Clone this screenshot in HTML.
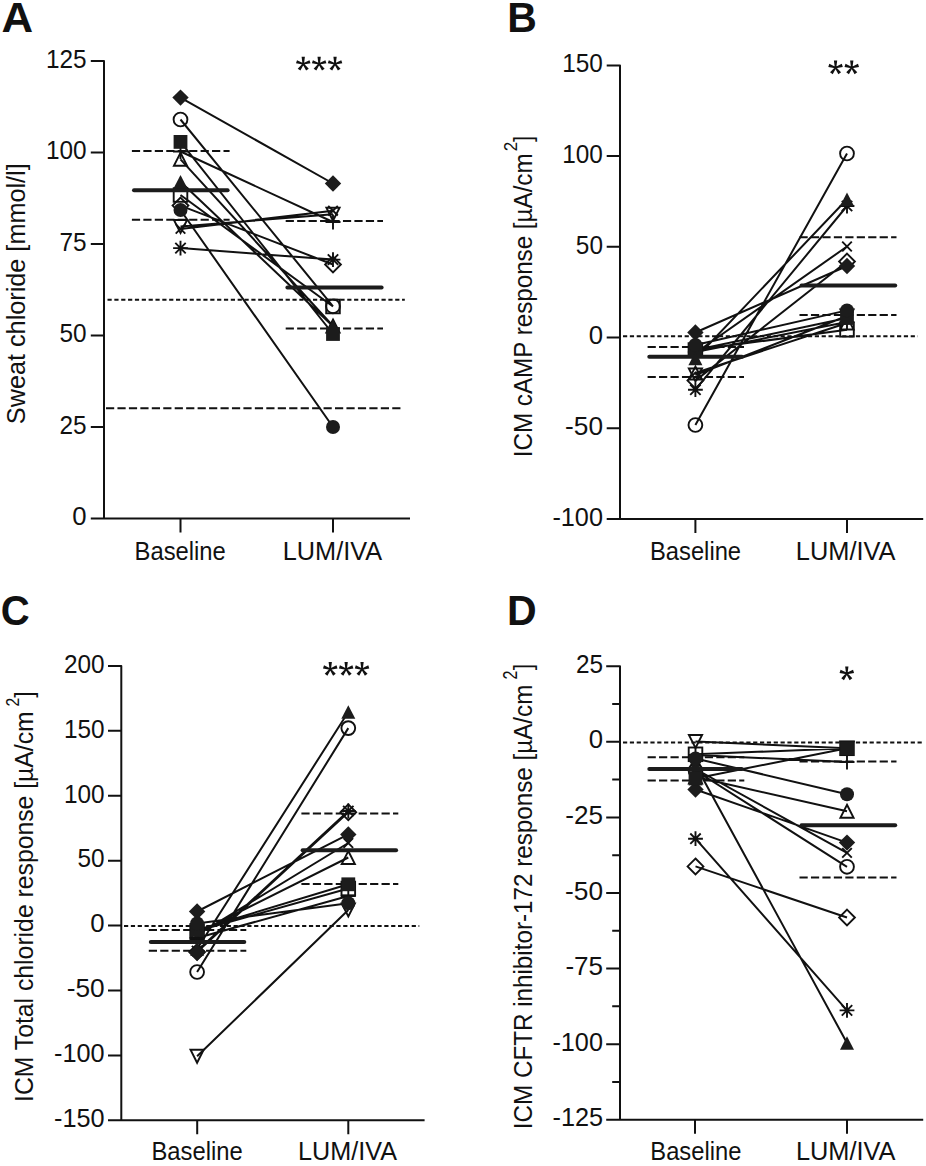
<!DOCTYPE html><html><head><meta charset="utf-8"><style>html,body{margin:0;padding:0;background:#fff}svg{display:block}text{font-family:"Liberation Sans",sans-serif;fill:#111}</style></head><body>
<svg width="926" height="1166" viewBox="0 0 926 1166">
<rect width="926" height="1166" fill="#fff"/>
<text x="1.61" y="32.2" font-size="43" font-weight="bold" textLength="31.65" lengthAdjust="spacingAndGlyphs">A</text>
<text x="507.26" y="32.3" font-size="43" font-weight="bold" textLength="29.6" lengthAdjust="spacingAndGlyphs">B</text>
<text x="0.66" y="624.7" font-size="43" font-weight="bold" textLength="28.94" lengthAdjust="spacingAndGlyphs">C</text>
<text x="507.05" y="624.7" font-size="43" font-weight="bold" textLength="29.67" lengthAdjust="spacingAndGlyphs">D</text>
<path d="M90.8 61H104V518.4M90.8 518.4H410" stroke="#111" stroke-width="2" fill="none" stroke-linejoin="round"/>
<path d="M90.8 426.92H104M90.8 335.44H104M90.8 243.96H104M90.8 152.48H104M180.5 518.4V532.4M333 518.4V532.4" stroke="#111" stroke-width="2"/>
<text x="72.29" y="525.2" font-size="25" font-weight="normal" textLength="14.31" lengthAdjust="spacingAndGlyphs">0</text>
<text x="59.51" y="433.72" font-size="25" font-weight="normal" textLength="27.11" lengthAdjust="spacingAndGlyphs">25</text>
<text x="59.44" y="342.24" font-size="25" font-weight="normal" textLength="27.11" lengthAdjust="spacingAndGlyphs">50</text>
<text x="59.51" y="250.76" font-size="25" font-weight="normal" textLength="27.11" lengthAdjust="spacingAndGlyphs">75</text>
<text x="45.88" y="159.28" font-size="25" font-weight="normal" textLength="40.67" lengthAdjust="spacingAndGlyphs">100</text>
<text x="45.95" y="67.8" font-size="25" font-weight="normal" textLength="40.67" lengthAdjust="spacingAndGlyphs">125</text>
<text transform="translate(25.3,423) rotate(-90)" x="-1.15" y="0" font-size="25" textLength="260.84" lengthAdjust="spacingAndGlyphs">Sweat chloride [mmol/l]</text>
<text x="134.55" y="559.5" font-size="25" font-weight="normal" textLength="91.21" lengthAdjust="spacingAndGlyphs">Baseline</text>
<text x="282.76" y="559.5" font-size="25" font-weight="normal" textLength="99.28" lengthAdjust="spacingAndGlyphs">LUM/IVA</text>
<path d="M304 63.9L304.9 56.8L301.6 56.8L302.5 63.9ZM303.48 64.61L310.51 63.28L309.49 60.14L303.02 63.19ZM302.64 64.34L306.09 70.61L308.76 68.67L303.86 63.46ZM302.64 63.46L297.74 68.67L300.41 70.61L303.86 64.34ZM303.48 63.19L297.01 60.14L295.99 63.28L303.02 64.61Z" fill="#111"/>
<circle cx="303.25" cy="63.9" r="1.5" fill="#111"/>
<path d="M319.9 63.9L320.8 56.8L317.5 56.8L318.4 63.9ZM319.38 64.61L326.41 63.28L325.39 60.14L318.92 63.19ZM318.54 64.34L321.99 70.61L324.66 68.67L319.76 63.46ZM318.54 63.46L313.64 68.67L316.31 70.61L319.76 64.34ZM319.38 63.19L312.91 60.14L311.89 63.28L318.92 64.61Z" fill="#111"/>
<circle cx="319.15" cy="63.9" r="1.5" fill="#111"/>
<path d="M335.8 63.9L336.7 56.8L333.4 56.8L334.3 63.9ZM335.28 64.61L342.31 63.28L341.29 60.14L334.82 63.19ZM334.44 64.34L337.89 70.61L340.56 68.67L335.66 63.46ZM334.44 63.46L329.54 68.67L332.21 70.61L335.66 64.34ZM335.28 63.19L328.81 60.14L327.79 63.28L334.82 64.61Z" fill="#111"/>
<circle cx="335.05" cy="63.9" r="1.5" fill="#111"/>
<path d="M107.5 299.7H404.8" stroke="#111" stroke-width="2" stroke-dasharray="4.2 2.65"/>
<path d="M106 408.2H400.6" stroke="#111" stroke-width="2" stroke-dasharray="8.2 3.25"/>
<path d="M131.9 150.9H229.6" stroke="#111" stroke-width="2" stroke-dasharray="8.2 3.25"/>
<path d="M131.9 219.7H229.6" stroke="#111" stroke-width="2" stroke-dasharray="8.2 3.25"/>
<path d="M285.7 221H383" stroke="#111" stroke-width="2" stroke-dasharray="8.2 3.25"/>
<path d="M285.7 328.6H383" stroke="#111" stroke-width="2" stroke-dasharray="8.2 3.25"/>
<path d="M180.5 151.5L333 222M180.5 159.3L333 326M180.5 97.6L333 183.5M180.5 119.5L333 306.3M180.5 141.9L333 334M180.5 181.8L333 326.3M180.5 195L333 306.5M180.5 205.6L333 264.5M180.5 210L333 427M180.5 226.5L333 214.3M180.5 228.9L333 210.7M180.5 248.1L333 259.6" stroke="#111" stroke-width="2.0" fill="none"/>
<path d="M173 151.5L188 151.5M180.5 144L180.5 159" stroke="#111" stroke-width="1.9"/>
<path d="M325.5 222L340.5 222M333 214.5L333 229.5" stroke="#111" stroke-width="1.9"/>
<path d="M180.5 152.8L187.1 165.8L173.9 165.8Z" fill="none" stroke="#111" stroke-width="1.9" stroke-linejoin="miter"/>
<path d="M333 319.5L339.6 332.5L326.4 332.5Z" fill="none" stroke="#111" stroke-width="1.9" stroke-linejoin="miter"/>
<circle cx="180.5" cy="119.5" r="6.9" fill="none" stroke="#111" stroke-width="1.9"/>
<circle cx="333" cy="306.3" r="6.9" fill="none" stroke="#111" stroke-width="1.9"/>
<rect x="173.7" y="188.2" width="13.6" height="13.6" fill="none" stroke="#111" stroke-width="1.9"/>
<rect x="326.2" y="299.7" width="13.6" height="13.6" fill="none" stroke="#111" stroke-width="1.9"/>
<path d="M180.5 197.7L188.4 205.6L180.5 213.5L172.6 205.6Z" fill="none" stroke="#111" stroke-width="1.9"/>
<path d="M333 256.6L340.9 264.5L333 272.4L325.1 264.5Z" fill="none" stroke="#111" stroke-width="1.9"/>
<path d="M180.5 233L187.1 220L173.9 220Z" fill="none" stroke="#111" stroke-width="1.9" stroke-linejoin="miter"/>
<path d="M333 220.8L339.6 207.8L326.4 207.8Z" fill="none" stroke="#111" stroke-width="1.9" stroke-linejoin="miter"/>
<path d="M175.7 224.1L185.3 233.7M185.3 224.1L175.7 233.7" stroke="#111" stroke-width="1.9"/>
<path d="M328.2 205.9L337.8 215.5M337.8 205.9L328.2 215.5" stroke="#111" stroke-width="1.9"/>
<path d="M173.1 248.1L187.9 248.1M180.5 240.7L180.5 255.5M175.3 242.9L185.7 253.3M185.7 242.9L175.3 253.3" stroke="#111" stroke-width="1.9"/>
<path d="M325.6 259.6L340.4 259.6M333 252.2L333 267M327.8 254.4L338.2 264.8M338.2 254.4L327.8 264.8" stroke="#111" stroke-width="1.9"/>
<path d="M180.5 89.4L188.7 97.6L180.5 105.8L172.3 97.6Z" fill="#1c1c1c"/>
<path d="M333 175.3L341.2 183.5L333 191.7L324.8 183.5Z" fill="#1c1c1c"/>
<rect x="173.6" y="135" width="13.8" height="13.8" fill="#1c1c1c"/>
<rect x="326.1" y="327.1" width="13.8" height="13.8" fill="#1c1c1c"/>
<path d="M180.5 175L187.5 188.6L173.5 188.6Z" fill="#1c1c1c"/>
<path d="M333 319.5L340 333.1L326 333.1Z" fill="#1c1c1c"/>
<circle cx="180.5" cy="210" r="7" fill="#1c1c1c"/>
<circle cx="333" cy="427" r="7" fill="#1c1c1c"/>
<path d="M134 190.2H227.6" stroke="#1c1c1c" stroke-width="4" stroke-linecap="round"/>
<path d="M287.4 287.5H381.6" stroke="#1c1c1c" stroke-width="4" stroke-linecap="round"/>
<path d="M606.7 65.4H620V519.1M606.7 519.1H923.2" stroke="#111" stroke-width="2" fill="none" stroke-linejoin="round"/>
<path d="M606.7 428.34H620M606.7 337.6H620M606.7 246.86H620M606.7 156.12H620M695.4 519.1V533.1M847 519.1V533.1" stroke="#111" stroke-width="2"/>
<text x="552.42" y="525.88" font-size="25" font-weight="normal" textLength="50.57" lengthAdjust="spacingAndGlyphs">-100</text>
<text x="565.05" y="435.14" font-size="25" font-weight="normal" textLength="37.98" lengthAdjust="spacingAndGlyphs">-50</text>
<text x="588.69" y="344.4" font-size="25" font-weight="normal" textLength="14.31" lengthAdjust="spacingAndGlyphs">0</text>
<text x="575.84" y="253.66" font-size="25" font-weight="normal" textLength="27.11" lengthAdjust="spacingAndGlyphs">50</text>
<text x="562.28" y="162.92" font-size="25" font-weight="normal" textLength="40.67" lengthAdjust="spacingAndGlyphs">100</text>
<text x="562.28" y="72.18" font-size="25" font-weight="normal" textLength="40.67" lengthAdjust="spacingAndGlyphs">150</text>
<text transform="translate(531.7,455) rotate(-90)" x="-2.23" y="0" font-size="25" textLength="303.82" lengthAdjust="spacingAndGlyphs">ICM cAMP response [µA/cm</text>
<text transform="translate(517.3,150.4) rotate(-90) scale(0.68,0.76)" x="-1.26" y="0" font-size="25">2</text>
<text transform="translate(531.7,141.9) rotate(-90)" x="-0.17" y="0" font-size="25" textLength="6.01" lengthAdjust="spacingAndGlyphs">]</text>
<text x="650.05" y="559.5" font-size="25" font-weight="normal" textLength="91" lengthAdjust="spacingAndGlyphs">Baseline</text>
<text x="795.86" y="559.5" font-size="25" font-weight="normal" textLength="99.69" lengthAdjust="spacingAndGlyphs">LUM/IVA</text>
<path d="M836.3 67.6L837.2 60.5L833.9 60.5L834.8 67.6ZM835.78 68.31L842.81 66.98L841.79 63.84L835.32 66.89ZM834.94 68.04L838.39 74.31L841.06 72.37L836.16 67.16ZM834.94 67.16L830.04 72.37L832.71 74.31L836.16 68.04ZM835.78 66.89L829.31 63.84L828.29 66.98L835.32 68.31Z" fill="#111"/>
<circle cx="835.55" cy="67.6" r="1.5" fill="#111"/>
<path d="M852.5 67.6L853.4 60.5L850.1 60.5L851 67.6ZM851.98 68.31L859.01 66.98L857.99 63.84L851.52 66.89ZM851.14 68.04L854.59 74.31L857.26 72.37L852.36 67.16ZM851.14 67.16L846.24 72.37L848.91 74.31L852.36 68.04ZM851.98 66.89L845.51 63.84L844.49 66.98L851.52 68.31Z" fill="#111"/>
<circle cx="851.75" cy="67.6" r="1.5" fill="#111"/>
<path d="M623 336.2H917.8" stroke="#111" stroke-width="2" stroke-dasharray="4.2 2.65"/>
<path d="M647.6 347.1H744" stroke="#111" stroke-width="2" stroke-dasharray="8.2 3.25"/>
<path d="M647.6 377H744" stroke="#111" stroke-width="2" stroke-dasharray="8.2 3.25"/>
<path d="M799.5 237.2H896.5" stroke="#111" stroke-width="2" stroke-dasharray="8.2 3.25"/>
<path d="M799.5 314.9H896.5" stroke="#111" stroke-width="2" stroke-dasharray="8.2 3.25"/>
<path d="M695.4 332.5L847 266M695.4 425L847 153.5M695.4 350L847 318M695.4 373L847 323M695.4 358.5L847 199.2M695.4 350L847 329.8M695.4 380.6L847 261.5M695.4 345L847 310.4M695.4 375L847 316M695.4 353L847 246.5M695.4 352L847 322M695.4 389.7L847 206" stroke="#111" stroke-width="2.0" fill="none"/>
<circle cx="695.4" cy="425" r="6.9" fill="none" stroke="#111" stroke-width="1.9"/>
<circle cx="847" cy="153.5" r="6.9" fill="none" stroke="#111" stroke-width="1.9"/>
<path d="M695.4 366.5L702 379.5L688.8 379.5Z" fill="none" stroke="#111" stroke-width="1.9" stroke-linejoin="miter"/>
<path d="M847 316.5L853.6 329.5L840.4 329.5Z" fill="none" stroke="#111" stroke-width="1.9" stroke-linejoin="miter"/>
<rect x="688.6" y="343.2" width="13.6" height="13.6" fill="none" stroke="#111" stroke-width="1.9"/>
<rect x="840.2" y="323" width="13.6" height="13.6" fill="none" stroke="#111" stroke-width="1.9"/>
<path d="M695.4 372.7L703.3 380.6L695.4 388.5L687.5 380.6Z" fill="none" stroke="#111" stroke-width="1.9"/>
<path d="M847 253.6L854.9 261.5L847 269.4L839.1 261.5Z" fill="none" stroke="#111" stroke-width="1.9"/>
<path d="M695.4 381.5L702 368.5L688.8 368.5Z" fill="none" stroke="#111" stroke-width="1.9" stroke-linejoin="miter"/>
<path d="M847 322.5L853.6 309.5L840.4 309.5Z" fill="none" stroke="#111" stroke-width="1.9" stroke-linejoin="miter"/>
<path d="M690.6 348.2L700.2 357.8M700.2 348.2L690.6 357.8" stroke="#111" stroke-width="1.9"/>
<path d="M842.2 241.7L851.8 251.3M851.8 241.7L842.2 251.3" stroke="#111" stroke-width="1.9"/>
<path d="M687.9 352L702.9 352M695.4 344.5L695.4 359.5" stroke="#111" stroke-width="1.9"/>
<path d="M839.5 322L854.5 322M847 314.5L847 329.5" stroke="#111" stroke-width="1.9"/>
<path d="M688 389.7L702.8 389.7M695.4 382.3L695.4 397.1M690.2 384.5L700.6 394.9M700.6 384.5L690.2 394.9" stroke="#111" stroke-width="1.9"/>
<path d="M839.6 206L854.4 206M847 198.6L847 213.4M841.8 200.8L852.2 211.2M852.2 200.8L841.8 211.2" stroke="#111" stroke-width="1.9"/>
<path d="M695.4 324.3L703.6 332.5L695.4 340.7L687.2 332.5Z" fill="#1c1c1c"/>
<path d="M847 257.8L855.2 266L847 274.2L838.8 266Z" fill="#1c1c1c"/>
<rect x="688.5" y="343.1" width="13.8" height="13.8" fill="#1c1c1c"/>
<rect x="840.1" y="311.1" width="13.8" height="13.8" fill="#1c1c1c"/>
<path d="M695.4 351.7L702.4 365.3L688.4 365.3Z" fill="#1c1c1c"/>
<path d="M847 192.4L854 206L840 206Z" fill="#1c1c1c"/>
<circle cx="695.4" cy="345" r="7" fill="#1c1c1c"/>
<circle cx="847" cy="310.4" r="7" fill="#1c1c1c"/>
<path d="M649.3 356.8H742" stroke="#1c1c1c" stroke-width="4" stroke-linecap="round"/>
<path d="M801.5 285.5H895.2" stroke="#1c1c1c" stroke-width="4" stroke-linecap="round"/>
<path d="M108 665.94H121.3V1120.35M108 1120.35H424.6" stroke="#111" stroke-width="2" fill="none" stroke-linejoin="round"/>
<path d="M108 1055.43H121.3M108 990.51H121.3M108 925.6H121.3M108 860.69H121.3M108 795.77H121.3M108 730.86H121.3M197.2 1120.35V1134.35M348.3 1120.35V1134.35" stroke="#111" stroke-width="2"/>
<text x="54.12" y="1127.14" font-size="25" font-weight="normal" textLength="50.57" lengthAdjust="spacingAndGlyphs">-150</text>
<text x="54.12" y="1062.23" font-size="25" font-weight="normal" textLength="50.57" lengthAdjust="spacingAndGlyphs">-100</text>
<text x="66.75" y="997.31" font-size="25" font-weight="normal" textLength="37.98" lengthAdjust="spacingAndGlyphs">-50</text>
<text x="90.39" y="932.4" font-size="25" font-weight="normal" textLength="14.31" lengthAdjust="spacingAndGlyphs">0</text>
<text x="77.54" y="867.49" font-size="25" font-weight="normal" textLength="27.11" lengthAdjust="spacingAndGlyphs">50</text>
<text x="63.98" y="802.57" font-size="25" font-weight="normal" textLength="40.67" lengthAdjust="spacingAndGlyphs">100</text>
<text x="63.98" y="737.65" font-size="25" font-weight="normal" textLength="40.67" lengthAdjust="spacingAndGlyphs">150</text>
<text x="63.98" y="672.74" font-size="25" font-weight="normal" textLength="40.67" lengthAdjust="spacingAndGlyphs">200</text>
<text transform="translate(33,1099.7) rotate(-90)" x="-2.27" y="0" font-size="25" textLength="390.68" lengthAdjust="spacingAndGlyphs">ICM Total chloride response [µA/cm</text>
<text transform="translate(18.5,705.7) rotate(-90) scale(0.63,0.77)" x="-1.26" y="0" font-size="25">2</text>
<text transform="translate(33,697.5) rotate(-90)" x="-0.18" y="0" font-size="25" textLength="6.43" lengthAdjust="spacingAndGlyphs">]</text>
<text x="151.45" y="1160.4" font-size="25" font-weight="normal" textLength="91.21" lengthAdjust="spacingAndGlyphs">Baseline</text>
<text x="298.07" y="1160.4" font-size="25" font-weight="normal" textLength="98.88" lengthAdjust="spacingAndGlyphs">LUM/IVA</text>
<path d="M331 669.1L331.9 662L328.6 662L329.5 669.1ZM330.48 669.81L337.51 668.48L336.49 665.34L330.02 668.39ZM329.64 669.54L333.09 675.81L335.76 673.87L330.86 668.66ZM329.64 668.66L324.74 673.87L327.41 675.81L330.86 669.54ZM330.48 668.39L324.01 665.34L322.99 668.48L330.02 669.81Z" fill="#111"/>
<circle cx="330.25" cy="669.1" r="1.5" fill="#111"/>
<path d="M346.9 669.1L347.8 662L344.5 662L345.4 669.1ZM346.38 669.81L353.41 668.48L352.39 665.34L345.92 668.39ZM345.54 669.54L348.99 675.81L351.66 673.87L346.76 668.66ZM345.54 668.66L340.64 673.87L343.31 675.81L346.76 669.54ZM346.38 668.39L339.91 665.34L338.89 668.48L345.92 669.81Z" fill="#111"/>
<circle cx="346.15" cy="669.1" r="1.5" fill="#111"/>
<path d="M362.8 669.1L363.7 662L360.4 662L361.3 669.1ZM362.28 669.81L369.31 668.48L368.29 665.34L361.82 668.39ZM361.44 669.54L364.89 675.81L367.56 673.87L362.66 668.66ZM361.44 668.66L356.54 673.87L359.21 675.81L362.66 669.54ZM362.28 668.39L355.81 665.34L354.79 668.48L361.82 669.81Z" fill="#111"/>
<circle cx="362.05" cy="669.1" r="1.5" fill="#111"/>
<path d="M124 926H419.3" stroke="#111" stroke-width="2" stroke-dasharray="4.2 2.65"/>
<path d="M148.8 930H246.3" stroke="#111" stroke-width="2" stroke-dasharray="8.2 3.25"/>
<path d="M148.8 950.7H246.3" stroke="#111" stroke-width="2" stroke-dasharray="8.2 3.25"/>
<path d="M301.4 813.4H398.3" stroke="#111" stroke-width="2" stroke-dasharray="8.2 3.25"/>
<path d="M301.4 884.1H398.3" stroke="#111" stroke-width="2" stroke-dasharray="8.2 3.25"/>
<path d="M197.1 911.5L348.3 834.4M197.1 972L348.3 728.1M197.1 930L348.3 884.3M197.1 933L348.3 857.5M197.1 949L348.3 712M197.1 931L348.3 888.5M197.1 952L348.3 812.3M197.1 923.5L348.3 903.2M197.1 1056.3L348.3 910M197.1 935L348.3 843M197.1 938L348.3 896M197.1 951L348.3 811" stroke="#111" stroke-width="2.0" fill="none"/>
<circle cx="197.1" cy="972" r="6.9" fill="none" stroke="#111" stroke-width="1.9"/>
<circle cx="348.3" cy="728.1" r="6.9" fill="none" stroke="#111" stroke-width="1.9"/>
<path d="M197.1 926.5L203.7 939.5L190.5 939.5Z" fill="none" stroke="#111" stroke-width="1.9" stroke-linejoin="miter"/>
<path d="M348.3 851L354.9 864L341.7 864Z" fill="none" stroke="#111" stroke-width="1.9" stroke-linejoin="miter"/>
<rect x="190.3" y="924.2" width="13.6" height="13.6" fill="none" stroke="#111" stroke-width="1.9"/>
<rect x="341.5" y="881.7" width="13.6" height="13.6" fill="none" stroke="#111" stroke-width="1.9"/>
<path d="M197.1 944.1L205 952L197.1 959.9L189.2 952Z" fill="none" stroke="#111" stroke-width="1.9"/>
<path d="M348.3 804.4L356.2 812.3L348.3 820.2L340.4 812.3Z" fill="none" stroke="#111" stroke-width="1.9"/>
<path d="M197.1 1062.8L203.7 1049.8L190.5 1049.8Z" fill="none" stroke="#111" stroke-width="1.9" stroke-linejoin="miter"/>
<path d="M348.3 916.5L354.9 903.5L341.7 903.5Z" fill="none" stroke="#111" stroke-width="1.9" stroke-linejoin="miter"/>
<path d="M192.3 930.2L201.9 939.8M201.9 930.2L192.3 939.8" stroke="#111" stroke-width="1.9"/>
<path d="M343.5 838.2L353.1 847.8M353.1 838.2L343.5 847.8" stroke="#111" stroke-width="1.9"/>
<path d="M189.6 938L204.6 938M197.1 930.5L197.1 945.5" stroke="#111" stroke-width="1.9"/>
<path d="M340.8 896L355.8 896M348.3 888.5L348.3 903.5" stroke="#111" stroke-width="1.9"/>
<path d="M189.7 951L204.5 951M197.1 943.6L197.1 958.4M191.9 945.8L202.3 956.2M202.3 945.8L191.9 956.2" stroke="#111" stroke-width="1.9"/>
<path d="M340.9 811L355.7 811M348.3 803.6L348.3 818.4M343.1 805.8L353.5 816.2M353.5 805.8L343.1 816.2" stroke="#111" stroke-width="1.9"/>
<path d="M197.1 903.3L205.3 911.5L197.1 919.7L188.9 911.5Z" fill="#1c1c1c"/>
<path d="M348.3 826.2L356.5 834.4L348.3 842.6L340.1 834.4Z" fill="#1c1c1c"/>
<rect x="190.2" y="923.1" width="13.8" height="13.8" fill="#1c1c1c"/>
<rect x="341.4" y="877.4" width="13.8" height="13.8" fill="#1c1c1c"/>
<path d="M197.1 942.2L204.1 955.8L190.1 955.8Z" fill="#1c1c1c"/>
<path d="M348.3 705.2L355.3 718.8L341.3 718.8Z" fill="#1c1c1c"/>
<circle cx="197.1" cy="923.5" r="7" fill="#1c1c1c"/>
<circle cx="348.3" cy="903.2" r="7" fill="#1c1c1c"/>
<path d="M197.1 944.3L205.3 952.5L197.1 960.7L188.9 952.5Z" fill="#1c1c1c"/>
<path d="M150.8 942H244.3" stroke="#1c1c1c" stroke-width="4" stroke-linecap="round"/>
<path d="M302.6 850.2H396.1" stroke="#1c1c1c" stroke-width="4" stroke-linecap="round"/>
<path d="M606.2 666.22H620V1119.71M606.2 1119.71H923.2" stroke="#111" stroke-width="2" fill="none" stroke-linejoin="round"/>
<path d="M606.2 1044.13H620M606.2 968.55H620M606.2 892.96H620M606.2 817.38H620M606.2 741.8H620M612.2 1081.92H620M612.2 1006.34H620M612.2 930.76H620M612.2 855.17H620M612.2 779.59H620M612.2 704.01H620M695 1119.71V1133.71M847 1119.71V1133.71" stroke="#111" stroke-width="2"/>
<text x="552.49" y="1126.31" font-size="25" font-weight="normal" textLength="50.57" lengthAdjust="spacingAndGlyphs">-125</text>
<text x="552.42" y="1050.73" font-size="25" font-weight="normal" textLength="50.57" lengthAdjust="spacingAndGlyphs">-100</text>
<text x="565.4" y="975.15" font-size="25" font-weight="normal" textLength="37.69" lengthAdjust="spacingAndGlyphs">-75</text>
<text x="565.05" y="899.56" font-size="25" font-weight="normal" textLength="37.98" lengthAdjust="spacingAndGlyphs">-50</text>
<text x="565.38" y="823.98" font-size="25" font-weight="normal" textLength="37.72" lengthAdjust="spacingAndGlyphs">-25</text>
<text x="588.69" y="748.4" font-size="25" font-weight="normal" textLength="14.31" lengthAdjust="spacingAndGlyphs">0</text>
<text x="575.91" y="672.82" font-size="25" font-weight="normal" textLength="27.11" lengthAdjust="spacingAndGlyphs">25</text>
<text transform="translate(531.8,1127) rotate(-90)" x="-2.23" y="0" font-size="25" textLength="444.53" lengthAdjust="spacingAndGlyphs">ICM CFTR inhibitor-172 response [µA/cm</text>
<text transform="translate(517.3,678.6) rotate(-90) scale(0.64,0.78)" x="-1.26" y="0" font-size="25">2</text>
<text transform="translate(531.8,670) rotate(-90)" x="-0.18" y="0" font-size="25" textLength="6.57" lengthAdjust="spacingAndGlyphs">]</text>
<text x="650.35" y="1160.4" font-size="25" font-weight="normal" textLength="91" lengthAdjust="spacingAndGlyphs">Baseline</text>
<text x="795.96" y="1160.4" font-size="25" font-weight="normal" textLength="99.59" lengthAdjust="spacingAndGlyphs">LUM/IVA</text>
<path d="M847.55 673.5L848.45 666.4L845.15 666.4L846.05 673.5ZM847.03 674.21L854.06 672.88L853.04 669.74L846.57 672.79ZM846.19 673.94L849.64 680.21L852.31 678.27L847.41 673.06ZM846.19 673.06L841.29 678.27L843.96 680.21L847.41 673.94ZM847.03 672.79L840.56 669.74L839.54 672.88L846.57 674.21Z" fill="#111"/>
<circle cx="846.8" cy="673.5" r="1.5" fill="#111"/>
<path d="M623 742.4H922.9" stroke="#111" stroke-width="2" stroke-dasharray="4.2 2.65"/>
<path d="M647.6 757.3H744.3" stroke="#111" stroke-width="2" stroke-dasharray="8.2 3.25"/>
<path d="M647.6 780.5H744.3" stroke="#111" stroke-width="2" stroke-dasharray="8.2 3.25"/>
<path d="M799.5 761.4H896.5" stroke="#111" stroke-width="2" stroke-dasharray="8.2 3.25"/>
<path d="M799.5 877.4H896.5" stroke="#111" stroke-width="2" stroke-dasharray="8.2 3.25"/>
<path d="M695.5 789.5L847 842.6M695.5 770.5L847 866.8M695.5 778.5L847 748.3M695.5 777L847 811.3M695.5 765L847 1043M695.5 754.3L847 748.3M695.5 866.4L847 917.5M695.5 758.5L847 794.2M695.5 741.5L847 748.3M695.5 769L847 852.9M695.5 755L847 762M695.5 838.7L847 1010.4" stroke="#111" stroke-width="2.0" fill="none"/>
<circle cx="695.5" cy="770.5" r="6.9" fill="none" stroke="#111" stroke-width="1.9"/>
<circle cx="847" cy="866.8" r="6.9" fill="none" stroke="#111" stroke-width="1.9"/>
<path d="M695.5 770.5L702.1 783.5L688.9 783.5Z" fill="none" stroke="#111" stroke-width="1.9" stroke-linejoin="miter"/>
<path d="M847 804.8L853.6 817.8L840.4 817.8Z" fill="none" stroke="#111" stroke-width="1.9" stroke-linejoin="miter"/>
<rect x="688.7" y="747.5" width="13.6" height="13.6" fill="none" stroke="#111" stroke-width="1.9"/>
<rect x="840.2" y="741.5" width="13.6" height="13.6" fill="none" stroke="#111" stroke-width="1.9"/>
<path d="M695.5 858.5L703.4 866.4L695.5 874.3L687.6 866.4Z" fill="none" stroke="#111" stroke-width="1.9"/>
<path d="M847 909.6L854.9 917.5L847 925.4L839.1 917.5Z" fill="none" stroke="#111" stroke-width="1.9"/>
<path d="M695.5 748L702.1 735L688.9 735Z" fill="none" stroke="#111" stroke-width="1.9" stroke-linejoin="miter"/>
<path d="M847 754.8L853.6 741.8L840.4 741.8Z" fill="none" stroke="#111" stroke-width="1.9" stroke-linejoin="miter"/>
<path d="M690.7 764.2L700.3 773.8M700.3 764.2L690.7 773.8" stroke="#111" stroke-width="1.9"/>
<path d="M842.2 848.1L851.8 857.7M851.8 848.1L842.2 857.7" stroke="#111" stroke-width="1.9"/>
<path d="M688 755L703 755M695.5 747.5L695.5 762.5" stroke="#111" stroke-width="1.9"/>
<path d="M839.5 762L854.5 762M847 754.5L847 769.5" stroke="#111" stroke-width="1.9"/>
<path d="M688.1 838.7L702.9 838.7M695.5 831.3L695.5 846.1M690.3 833.5L700.7 843.9M700.7 833.5L690.3 843.9" stroke="#111" stroke-width="1.9"/>
<path d="M839.6 1010.4L854.4 1010.4M847 1003L847 1017.8M841.8 1005.2L852.2 1015.6M852.2 1005.2L841.8 1015.6" stroke="#111" stroke-width="1.9"/>
<path d="M695.5 781.3L703.7 789.5L695.5 797.7L687.3 789.5Z" fill="#1c1c1c"/>
<path d="M847 834.4L855.2 842.6L847 850.8L838.8 842.6Z" fill="#1c1c1c"/>
<rect x="688.6" y="771.6" width="13.8" height="13.8" fill="#1c1c1c"/>
<rect x="840.1" y="741.4" width="13.8" height="13.8" fill="#1c1c1c"/>
<path d="M695.5 758.2L702.5 771.8L688.5 771.8Z" fill="#1c1c1c"/>
<path d="M847 1036.2L854 1049.8L840 1049.8Z" fill="#1c1c1c"/>
<circle cx="695.5" cy="758.5" r="7" fill="#1c1c1c"/>
<circle cx="847" cy="794.2" r="7" fill="#1c1c1c"/>
<path d="M649.3 769.1H741.8" stroke="#1c1c1c" stroke-width="4" stroke-linecap="round"/>
<path d="M801.5 825.3H895.2" stroke="#1c1c1c" stroke-width="4" stroke-linecap="round"/>
</svg></body></html>
